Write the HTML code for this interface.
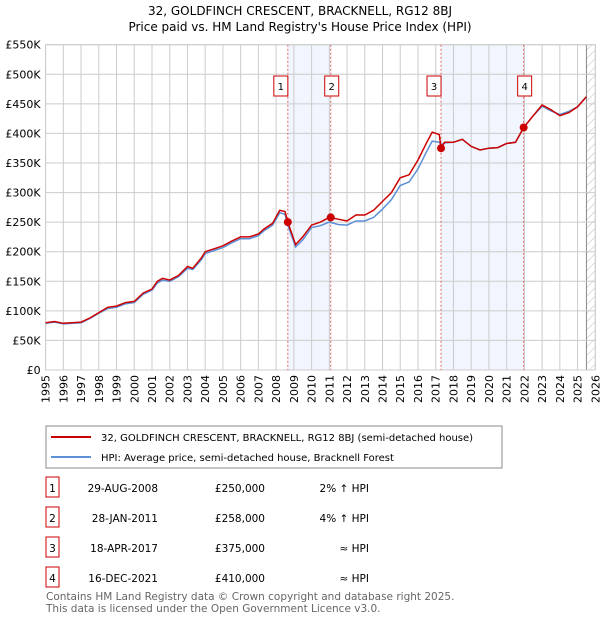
<!DOCTYPE html>
<html><head><meta charset="utf-8"><style>
body{margin:0;background:#fff;font-family:"Liberation Sans","DejaVu Sans",sans-serif}
svg text{font-family:"DejaVu Sans","Liberation Sans",sans-serif}
</style></head><body>
<svg id="c" width="600" height="620" xmlns="http://www.w3.org/2000/svg">
<text x="300" y="15" text-anchor="middle" font-size="12" fill="#000">32, GOLDFINCH CRESCENT, BRACKNELL, RG12 8BJ</text>
<text x="300" y="31" text-anchor="middle" font-size="12" fill="#000">Price paid vs. HM Land Registry's House Price Index (HPI)</text>
<defs><pattern id="hatch" width="6" height="6" patternUnits="userSpaceOnUse" patternTransform="rotate(45)"><line x1="0" y1="0" x2="0" y2="6" stroke="#bbb" stroke-width="1"/></pattern></defs>
<g id="plot"></g>
<g id="legend">
<rect x="46" y="426" width="456" height="42" fill="#fff" stroke="#888"/>
<line x1="51" y1="437" x2="91" y2="437" stroke="#cc0000" stroke-width="2"/>
<text x="101" y="441" font-size="10">32, GOLDFINCH CRESCENT, BRACKNELL, RG12 8BJ (semi-detached house)</text>
<line x1="51" y1="457" x2="91" y2="457" stroke="#5b8fd6" stroke-width="2"/>
<text x="101" y="461" font-size="10">HPI: Average price, semi-detached house, Bracknell Forest</text>
</g>
<g id="table" font-size="10"></g>
<text x="46" y="600" font-size="10.5" fill="#666">Contains HM Land Registry data © Crown copyright and database right 2025.</text>
<text x="46" y="612" font-size="10.5" fill="#666">This data is licensed under the Open Government Licence v3.0.</text>
</svg>
<script>
const years=[1995,1995.5,1996,1997,1997.5,1998,1998.5,1999,1999.5,2000,2000.5,2001,2001.3,2001.6,2002,2002.5,2003,2003.3,2003.8,2004,2004.5,2005,2005.5,2006,2006.5,2007,2007.3,2007.8,2008.2,2008.5,2008.66,2009.1,2009.5,2010,2010.5,2011,2011.5,2012,2012.5,2013,2013.5,2014,2014.5,2015,2015.5,2016,2016.5,2016.8,2017.2,2017.3,2017.5,2018,2018.5,2019,2019.5,2020,2020.5,2021,2021.5,2021.96,2022.5,2023,2023.5,2024,2024.5,2025,2025.5];
const priceVals=[80,82,79,81,88,97,106,108,114,116,130,137,150,155,152,160,175,172,190,200,205,210,218,225,225,230,238,248,270,268,250,212,225,245,250,258,255,252,262,262,270,285,300,325,330,355,385,402,398,375,385,385,390,378,372,375,376,383,385,410,430,448,440,430,435,445,462];
const hpiVals=[79,81,78,80,87,96,104,106,112,114,128,135,147,152,150,158,172,170,187,197,202,207,215,222,222,227,235,245,266,263,245,208,220,241,244,250,246,245,252,252,258,272,288,312,318,340,370,387,385,381,384,385,390,378,372,375,376,383,385,410,430,446,438,432,437,445,462];
const saleYears=[2008.66,2011.08,2017.3,2021.96];
const saleVals=[250,258,375,410];
const saleLabels=["1","2","3","4"];
const saleDates=["29-AUG-2008","28-JAN-2011","18-APR-2017","16-DEC-2021"];
const salePrices=["£250,000","£258,000","£375,000","£410,000"];
const saleRel=["2% ↑ HPI","4% ↑ HPI","≈ HPI","≈ HPI"];
const yTicks=[0,50,100,150,200,250,300,350,400,450,500,550];
const yTickLabels=["£0","£50K","£100K","£150K","£200K","£250K","£300K","£350K","£400K","£450K","£500K","£550K"];
const xTicks=[1995,1996,1997,1998,1999,2000,2001,2002,2003,2004,2005,2006,2007,2008,2009,2010,2011,2012,2013,2014,2015,2016,2017,2018,2019,2020,2021,2022,2023,2024,2025,2026];

const X0=45.6,X1=595.3,Y0=370,Y1=44.7;
const xs=v=>X0+(v-1995)/(2026-1995)*(X1-X0);
const ys=v=>Y0-(v/550)*(Y0-Y1);
const NS="http://www.w3.org/2000/svg";
const g=document.getElementById('plot');
function mk(tag,attrs,parent){const e=document.createElementNS(NS,tag);for(const k in attrs)e.setAttribute(k,attrs[k]);(parent||g).appendChild(e);return e;}

mk('rect',{x:X0,y:Y1,width:X1-X0,height:Y0-Y1,fill:'#fff'});
for(let i=0;i<2;i++){
 const r=mk('rect',{x:xs(saleYears[i*2]),y:Y1,width:xs(saleYears[i*2+1])-xs(saleYears[i*2]),height:Y0-Y1,fill:'#eef3fc',opacity:0.8});
 
 
}
const hx=xs(2025.5);
const hr=mk('rect',{x:hx,y:Y1,width:X1-hx,height:Y0-Y1,fill:'url(#hatch)'});


mk('line',{x1:hx,y1:Y1,x2:hx,y2:Y0,stroke:'#888',"stroke-width":1});

yTicks.forEach((t,i)=>{
 mk('line',{x1:X0,y1:ys(t),x2:X1,y2:ys(t),stroke:'#ccc',"stroke-width":1});
 const tx=mk('text',{x:X0-5,y:ys(t)+4,"text-anchor":"end","font-size":11});
 tx.textContent=yTickLabels[i];
 
 
});
xTicks.forEach(t=>{
 mk('line',{x1:xs(t),y1:Y1,x2:xs(t),y2:Y0,stroke:'#ccc',"stroke-width":1});
 const tx=mk('text',{x:0,y:0,"text-anchor":"end","font-size":11,transform:`translate(${xs(t)+4},${Y0+5}) rotate(-90)`});
 tx.textContent=t;
 
 
});
mk('rect',{x:X0,y:Y1,width:X1-X0,height:Y0-Y1,fill:'none',stroke:'#ccc'});

saleYears.forEach((s,i)=>{
 mk('line',{x1:xs(s),y1:Y1,x2:xs(s),y2:Y0,stroke:'#e06666',"stroke-width":1,"stroke-dasharray":"2,2"});
 const bx=xs(s)-(i==0||i==2?11:3);
 const b=mk('rect',{x:bx-3,y:76,width:14,height:20,fill:'#fff',stroke:'#cc0000'});
 
 
 const t=mk('text',{x:bx+4,y:90,"text-anchor":"middle","font-size":10});
 t.textContent=saleLabels[i];
});

function path(vals){return years.map((y,i)=>(i?'L':'M')+xs(y).toFixed(1)+','+ys(vals[i]).toFixed(1)).join('');}
const hp=mk('path',{d:path(hpiVals),fill:'none',stroke:'#5b8fd6',"stroke-width":1.5});


const pp=mk('path',{d:path(priceVals),fill:'none',stroke:'#cc0000',"stroke-width":1.5});


saleYears.forEach((s,i)=>{
 const c=mk('circle',{cx:xs(s),cy:ys(saleVals[i]),r:4,fill:'#cc0000'});
 
 
});

const tb=document.getElementById('table');
saleLabels.forEach((l,i)=>{
 const y=488+i*30;
 const r=mk('rect',{x:46,y:y-11,width:13,height:20,fill:'#fff',stroke:'#cc0000'},tb);
 
 
 const cells=[[52.5,l,'middle'],[158,saleDates[i],'end'],[265,salePrices[i],'end'],[369,saleRel[i],'end']];
 cells.forEach(([x,txt,a],j)=>{
  const t=mk('text',{x:x,y:y+4,"text-anchor":a,"font-size":10.5},tb);
  t.textContent=txt;
  
  
 });
});
</script>
</body></html>
